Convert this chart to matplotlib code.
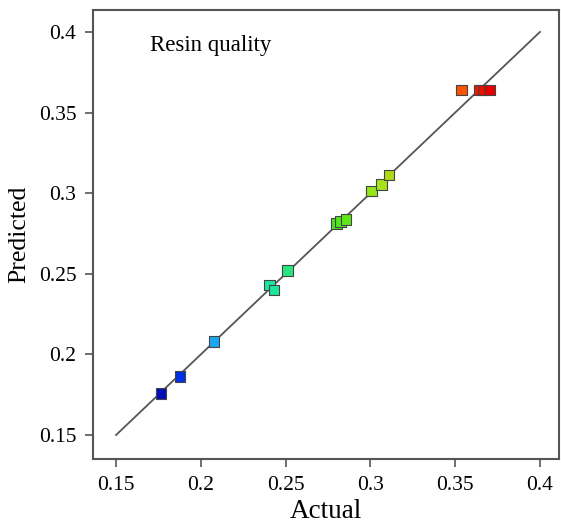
import numpy as np
import matplotlib
matplotlib.use("Agg")
import matplotlib.pyplot as plt
from matplotlib.colors import LinearSegmentedColormap, Normalize

# Actual vs predicted values
actual = [0.1764, 0.1877, 0.2078, 0.2404, 0.2432, 0.2512, 0.2800, 0.2825,
          0.2856, 0.3007, 0.3066, 0.3109, 0.3538, 0.3642, 0.3666, 0.3701]
predicted = [0.1759, 0.1862, 0.2079, 0.2430, 0.2400, 0.2519, 0.2813, 0.2823,
             0.2838, 0.3014, 0.3055, 0.3113, 0.3640, 0.3640, 0.3640, 0.3640]
ticks = [0.15, 0.2, 0.25, 0.3, 0.35, 0.4]
tick_labels = ["0.15", "0.2", "0.25", "0.3", "0.35", "0.4"]

plt.rcParams["font.family"] = ["Liberation Serif", "DejaVu Serif"]

# blue -> green -> red scale like the design software uses
cmap = LinearSegmentedColormap.from_list("de", [
    (0.0, (0.0, 0.05, 0.72)),
    (0.06, (0.0, 0.2, 0.9)),
    (0.16, (0.1, 0.65, 0.95)),
    (0.33, (0.1, 0.9, 0.65)),
    (0.54, (0.3, 0.9, 0.1)),
    (0.67, (0.65, 0.9, 0.1)),
    (0.9, (1.0, 0.4, 0.0)),
    (1.0, (0.9, 0.0, 0.0)),
])
norm = Normalize(vmin=min(actual), vmax=max(actual))

fig = plt.figure(figsize=(5.61, 5.32), dpi=100)
ax = fig.add_axes([0.1658, 0.1372, 0.8306, 0.844])

ax.plot([0.15, 0.4], [0.15, 0.4], color="#555555", lw=1.3, zorder=1)
ax.scatter(actual, predicted, c=actual, cmap=cmap, norm=norm, marker="s",
           s=58, edgecolors="#444444", linewidths=0.8, zorder=2)

ax.set_xlim(0.1364, 0.4112)
ax.set_ylim(0.1351, 0.4136)
ax.set_xticks(ticks)
ax.set_xticklabels(tick_labels)
ax.set_yticks(ticks)
ax.set_yticklabels(tick_labels)
ax.tick_params(direction="out", length=6, width=1.2, color="#555555",
               labelsize=15.5, pad=6)
for s in ax.spines.values():
    s.set_color("#555555")
    s.set_linewidth(1.5)

ax.set_xlabel("Actual", fontsize=19.5, labelpad=3)
ax.set_ylabel("Predicted", fontsize=18.5, labelpad=6)
ax.text(0.122, 0.922, "Resin quality", transform=ax.transAxes,
        fontsize=16.5, va="center", ha="left")

fig.savefig("out.png", dpi=100)
